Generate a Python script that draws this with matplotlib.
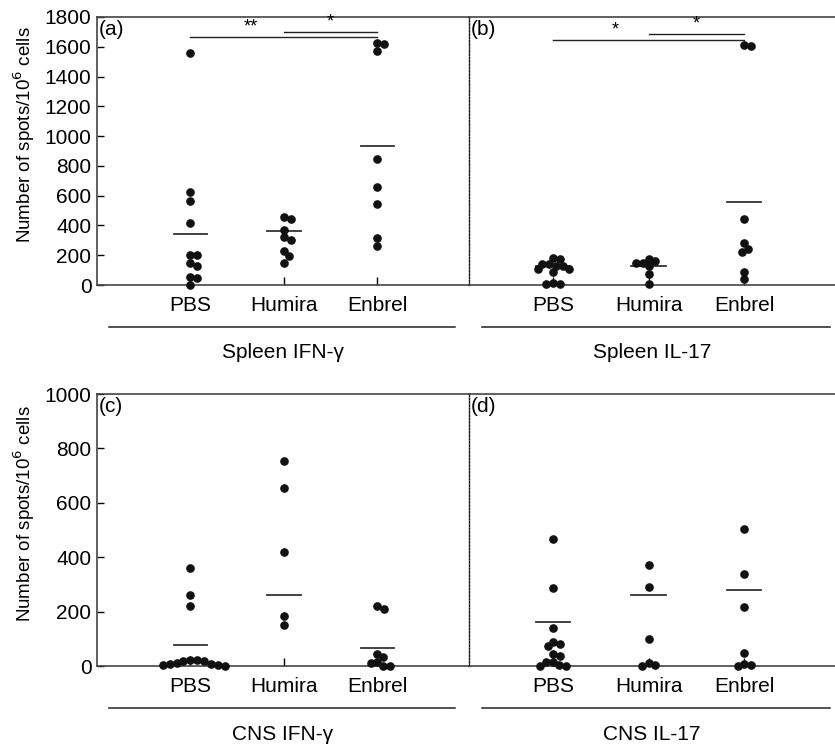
import numpy as np
import matplotlib
matplotlib.use("Agg")
import matplotlib.pyplot as plt
from matplotlib.lines import Line2D

plt.rcParams["font.family"] = ["Liberation Sans", "DejaVu Sans"]

# ==========================================
# DATA
# ==========================================

groups = ["PBS", "Humira", "Enbrel"]

# (a) Spleen IFN-gamma
a_pbs = [1560, 625, 565, 415, 200, 200, 145, 130, 55, 50, 0]
a_humira = [455, 440, 370, 320, 305, 230, 195, 150]
a_enbrel = [1625, 1620, 1575, 845, 660, 545, 315, 265]
a_means = [340, 365, 935]

# (b) Spleen IL-17
b_pbs = [180, 175, 140, 140, 130, 130, 105, 105, 90, 15, 10, 5]
b_humira = [175, 160, 150, 150, 125, 75, 10]
b_enbrel = [1610, 1605, 445, 285, 245, 220, 90, 40]
b_means = [130, 130, 560]

# (c) CNS IFN-gamma
c_pbs = [360, 260, 220, 22, 21, 20, 18, 12, 9, 6, 2, 2, 0]
c_humira = [755, 655, 420, 185, 150]
c_enbrel = [222, 210, 45, 32, 15, 10, 0, 0]
c_means = [76, 260, 67]

# (d) CNS IL-17
d_pbs = [466, 288, 140, 88, 80, 72, 45, 36, 15, 15, 2, 0, 0]
d_humira = [370, 292, 98, 10, 3, 0]
d_enbrel = [505, 339, 218, 49, 8, 2, 0]
d_means = [162, 260, 280]

# significance bars: (label, x from, x to, height)
a_sig = [("**", 1, 3, 1668), ("*", 2, 3, 1700)]
b_sig = [("*", 1, 3, 1648), ("*", 2, 3, 1686)]

panel_titles = ["Spleen IFN-\u03b3", "Spleen IL-17", "CNS IFN-\u03b3", "CNS IL-17"]

# ==========================================
# HELPERS
# ==========================================

W, H = 835, 747
DOT = 7.0  # marker diameter in px
FS = 15


def swarm(vals, ypx, xpx):
    # simple beeswarm: nudge points sideways so that they do not overlap
    order = np.argsort(vals)[::-1]
    placed = []
    offs = np.zeros(len(vals))
    for i in order:
        y = vals[i] * ypx
        cands = [0.0]
        for px, py in placed:
            dy = abs(py - y)
            if dy < DOT:
                dx = np.sqrt(DOT ** 2 - dy ** 2)
                cands += [px - dx, px + dx]
        cands.sort(key=lambda c: (abs(c), -c))
        for c in cands:
            ok = all((c - px) ** 2 + (y - py) ** 2 >= DOT ** 2 * 0.98 for px, py in placed)
            if ok:
                break
        placed.append((c, y))
        offs[i] = c / xpx
    return offs


def draw_panel(ax, series, means, ymax, xlim, width_px, height_px, letter, sig=None):
    ypx = height_px / ymax
    xpx = width_px / (xlim[1] - xlim[0])
    for k, vals in enumerate(series):
        vals = np.array(vals, dtype=float)
        xs = (k + 1) + swarm(vals, ypx, xpx)
        ax.plot(xs, vals, "o", color="#111111", ms=5.2, mec="#111111",
                clip_on=False, zorder=3)
        ax.plot([k + 1 - 0.18, k + 1 + 0.18], [means[k], means[k]],
                color="#333333", lw=1.3, zorder=2)
    if sig:
        for lab, x0, x1, h in sig:
            ax.plot([x0, x1], [h, h], color="#222222", lw=1.0)
            xm = (x0 + x1) / 2 if x0 == 2 else 1.65
            ax.text(xm, h + ymax * 0.004, lab, ha="center", va="bottom", fontsize=13)
    ax.set_xlim(*xlim)
    ax.set_ylim(0, ymax)
    ax.set_xticks([1, 2, 3])
    ax.set_xticklabels(groups)
    ax.tick_params(axis="x", direction="in", length=6, width=1, labelsize=FS, pad=8)
    ax.text(0.004, 0.99, letter, transform=ax.transAxes, ha="left", va="top", fontsize=FS)
    for s in ax.spines.values():
        s.set_color("#444444")
        s.set_linewidth(1.2)


# ==========================================
# FIGURE
# ==========================================

fig = plt.figure(figsize=(W / 100, H / 100), dpi=100)

x_left, x_mid, x_right = 97, 469, 835
rows = [(17, 285, 1800, [a_pbs, a_humira, a_enbrel], a_means, [b_pbs, b_humira, b_enbrel], b_means, "(a)", "(b)", a_sig, b_sig),
        (394, 666, 1000, [c_pbs, c_humira, c_enbrel], c_means, [d_pbs, d_humira, d_enbrel], d_means, "(c)", "(d)", None, None)]

for r, (top, bot, ymax, s1, m1, s2, m2, l1, l2, sg1, sg2) in enumerate(rows):
    h_px = bot - top
    axl = fig.add_axes([x_left / W, 1 - bot / H, (x_mid - x_left) / W, h_px / H])
    axr = fig.add_axes([x_mid / W, 1 - bot / H, (x_right - x_mid) / W, h_px / H])

    draw_panel(axl, s1, m1, ymax, (0.0, 3.98), x_mid - x_left, h_px, l1, sg1)
    draw_panel(axr, s2, m2, ymax, (0.12, 3.95), x_right - x_mid, h_px, l2, sg2)

    # dotted divider between the two halves
    axl.spines["right"].set_visible(False)
    axr.spines["left"].set_linestyle((0, (1.2, 1.2)))
    axr.spines["left"].set_linewidth(1.0)
    axr.spines["left"].set_color("#111111")
    axr.spines["right"].set_visible(False)
    axr.tick_params(axis="y", left=False, labelleft=False)

    axl.set_yticks(np.arange(0, ymax + 1, 200))
    axl.tick_params(axis="y", direction="in", length=5, width=1, labelsize=FS, pad=4)
    axl.set_ylabel("Number of spots/10$^{6}$ cells", fontsize=13.5)
    axl.yaxis.set_label_coords(-0.162, 0.56)

    # group lines and labels under each half
    y_line = 1 - (bot + 42) / H
    y_lab = 1 - (bot + 68) / H
    for (xa, xb, xc), title in zip([(109, 455, 283), (482, 830, 652)], panel_titles[2 * r:2 * r + 2]):
        fig.add_artist(Line2D([xa / W, xb / W], [y_line, y_line], color="#222222", lw=1.1))
        fig.text(xc / W, y_lab, title, ha="center", va="center", fontsize=FS)

plt.savefig("out.png", dpi=100)
